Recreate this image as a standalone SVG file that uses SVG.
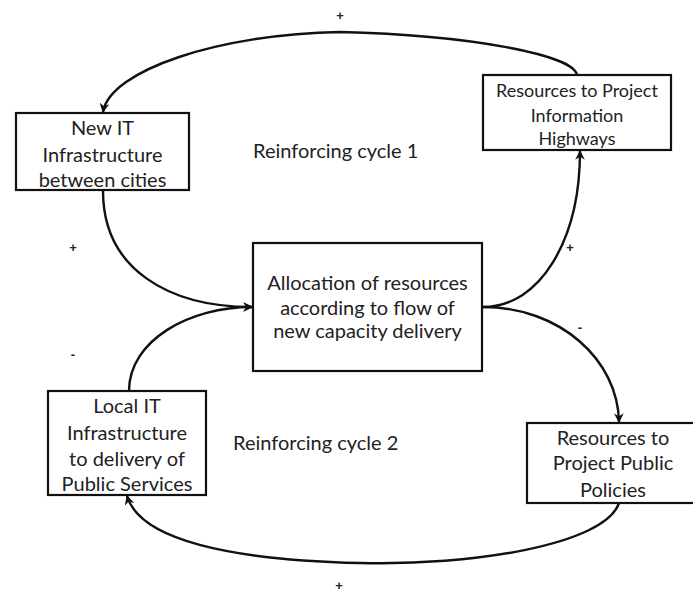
<svg xmlns="http://www.w3.org/2000/svg" width="693" height="593" viewBox="0 0 693 593">
  <style>
    .box { fill: #fff; stroke: #111; stroke-width: 2.2; }
    .lbl { font-family: Lato, "Liberation Sans", sans-serif; font-size: 20px; fill: #222; text-anchor: middle; }
    .sm { font-size: 18px; }
    .note { font-family: Lato, "Liberation Sans", sans-serif; font-size: 20px; fill: #222; }
    .sign { font-family: "Liberation Sans", sans-serif; font-size: 13px; font-weight: bold; fill: #222; text-anchor: middle; }
    .link { fill: none; stroke: #111; stroke-width: 2.4; }
  </style>
  <defs>
    <marker id="arrow" viewBox="0 0 10 10" refX="9" refY="5" markerWidth="4" markerHeight="4" orient="auto" markerUnits="strokeWidth">
      <path d="M0,0 L10,5 L0,10 L3,5 Z" fill="#111"/>
    </marker>
  </defs>
  <rect width="693" height="593" fill="#fff"/>

  <g id="connectors">
    <!-- top arc: Information Highways -> New IT Infrastructure -->
    <path class="link" d="M577,75 C574,55 470,35 340,32 C220,34 110,70 103,112" marker-end="url(#arrow)"/>
    <!-- New IT Infrastructure -> Allocation -->
    <path class="link" d="M103,191 C103,270 170,307 252,307" marker-end="url(#arrow)"/>
    <!-- Local IT Infrastructure -> Allocation -->
    <path class="link" d="M129,391 C129,340 190,307 252,307" marker-end="url(#arrow)"/>
    <!-- Allocation -> Information Highways -->
    <path class="link" d="M483,307 C540,307 580,240 580,151" marker-end="url(#arrow)"/>
    <!-- Allocation -> Public Policies -->
    <path class="link" d="M483,307 C560,307 618,360 619,422" marker-end="url(#arrow)"/>
    <!-- bottom arc: Public Policies -> Local IT Infrastructure -->
    <path class="link" d="M619,503 C605,545 470,566 360,563 C230,560 140,540 127,496" marker-end="url(#arrow)"/>
  </g>

  <g id="new-it-infrastructure">
    <rect class="box" x="16" y="113" width="173" height="77"/>
    <text class="lbl" x="102.5" y="135">New IT</text>
    <text class="lbl" x="102.5" y="162">Infrastructure</text>
    <text class="lbl" x="102.5" y="187">between cities</text>
  </g>

  <g id="information-highways">
    <rect class="box" x="483" y="75" width="188" height="75"/>
    <text class="lbl sm" x="577" y="97">Resources to Project</text>
    <text class="lbl sm" x="577" y="122">Information</text>
    <text class="lbl sm" x="577" y="145">Highways</text>
  </g>

  <g id="allocation">
    <rect class="box" x="253" y="243" width="229" height="128"/>
    <text class="lbl" x="367.5" y="290">Allocation of resources</text>
    <text class="lbl" x="367.5" y="315">according to flow of</text>
    <text class="lbl" x="367.5" y="338">new capacity delivery</text>
  </g>

  <g id="local-it-infrastructure">
    <rect class="box" x="48" y="391" width="158" height="104"/>
    <text class="lbl" x="127" y="413">Local IT</text>
    <text class="lbl" x="127" y="440">Infrastructure</text>
    <text class="lbl" x="127" y="466">to delivery of</text>
    <text class="lbl" x="127" y="491">Public Services</text>
  </g>

  <g id="public-policies">
    <rect class="box" x="527" y="423" width="172" height="80"/>
    <text class="lbl" x="613" y="445">Resources to</text>
    <text class="lbl" x="613" y="470">Project Public</text>
    <text class="lbl" x="613" y="497">Policies</text>
  </g>

  <g id="annotations">
    <text class="note" x="253" y="158">Reinforcing cycle 1</text>
    <text class="note" x="233" y="450">Reinforcing cycle 2</text>
    <text class="sign" x="340" y="20">+</text>
    <text class="sign" x="73" y="252">+</text>
    <text class="sign" x="570" y="252">+</text>
    <text class="sign" x="580" y="332">-</text>
    <text class="sign" x="73" y="359">-</text>
    <text class="sign" x="339" y="590">+</text>
  </g>
</svg>
